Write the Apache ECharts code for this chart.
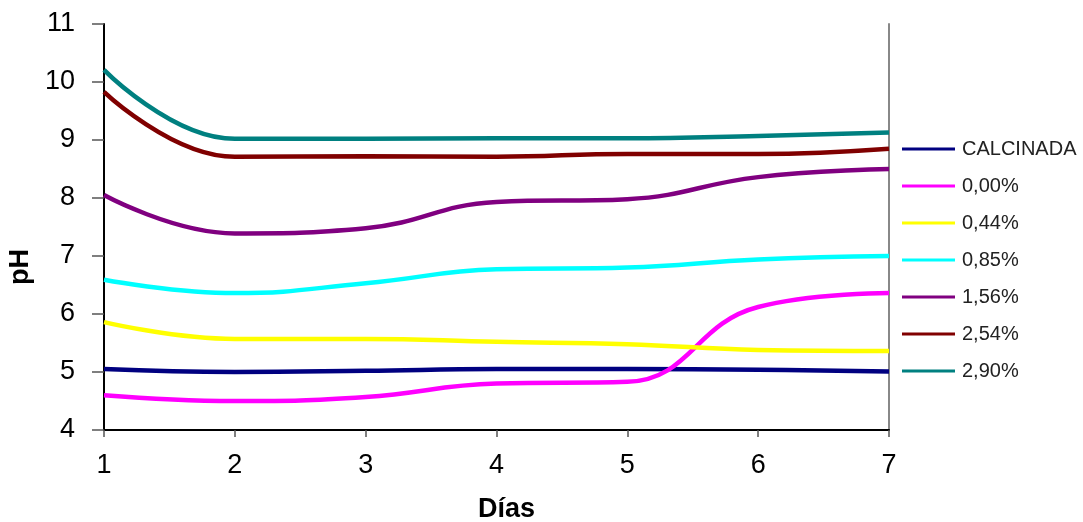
<!DOCTYPE html>
<html>
<head>
<meta charset="utf-8">
<script src="https://cdn.jsdelivr.net/npm/echarts@6/dist/echarts.min.js"></script>
<style>html,body{margin:0;padding:0;background:#fff}#c{width:1083px;height:522px}</style>
</head>
<body>
<div id="c"></div>
<script>
const days = [1, 2, 3, 4, 5, 6, 7];
const seriesNames = ['CALCINADA', '0,00%', '0,44%', '0,85%', '1,56%', '2,54%', '2,90%'];
const seriesColors = ['#000080', '#FF00FF', '#FFFF00', '#00FFFF', '#800080', '#800000', '#008080'];
const calcinada = [5.05, 5.00, 5.02, 5.05, 5.05, 5.04, 5.01];
const p000 = [4.60, 4.50, 4.57, 4.80, 4.83, 6.12, 6.36];
const p044 = [5.86, 5.57, 5.57, 5.52, 5.48, 5.38, 5.36];
const p085 = [6.59, 6.36, 6.53, 6.77, 6.80, 6.94, 7.00];
const p156 = [8.05, 7.39, 7.48, 7.93, 7.98, 8.36, 8.50];
const p254 = [9.83, 8.71, 8.72, 8.71, 8.76, 8.76, 8.85];
const p290 = [10.21, 9.02, 9.02, 9.03, 9.03, 9.07, 9.13];
const allValues = [calcinada, p000, p044, p085, p156, p254, p290];

const chart = echarts.init(document.getElementById('c'));
const font = 'Arial, "Liberation Sans", sans-serif';
chart.setOption({
  animation: false,
  backgroundColor: '#fff',
  grid: { left: 104, right: 194, top: 24, bottom: 92, containLabel: false, outerBoundsMode: 'none' },
  legend: {
    orient: 'vertical',
    left: 897, top: 134,
    itemWidth: 53, itemHeight: 3, itemGap: 17,
    icon: 'rect',
    textStyle: { fontFamily: font, fontSize: 20, lineHeight: 20, color: '#222', padding: [0, 0, 0, 2] },
    data: seriesNames
  },
  xAxis: {
    type: 'value', min: 1, max: 7, interval: 1,
    name: 'Días', nameLocation: 'middle', nameGap: 66,
    nameTextStyle: { fontFamily: font, fontSize: 27, fontWeight: 'bold', color: '#000', padding: [0, 0, 0, 20] },
    axisLine: { lineStyle: { color: '#000', width: 2 } },
    axisTick: { length: 7, lineStyle: { color: '#555', width: 1.5 } },
    axisLabel: { fontFamily: font, fontSize: 27, color: '#000', margin: 22 },
    splitLine: { show: false }
  },
  yAxis: [{
    type: 'value', min: 4, max: 11, interval: 1,
    name: 'pH', nameLocation: 'middle', nameGap: 64, nameRotate: 90,
    nameTextStyle: { fontFamily: font, fontSize: 27, fontWeight: 'bold', color: '#000', padding: [0, 80, 0, 0] },
    axisLine: { show: true, lineStyle: { color: '#000', width: 2 } },
    axisTick: { show: true, length: 12, lineStyle: { color: '#555', width: 1.5 } },
    axisLabel: { fontFamily: font, fontSize: 27, color: '#000', margin: 29 },
    splitLine: { show: false }
  }, {
    type: 'value', min: 4, max: 11, interval: 1, position: 'right',
    axisLine: { show: true, lineStyle: { color: '#888', width: 2 } },
    axisTick: { show: false }, axisLabel: { show: false }, splitLine: { show: false }
  }],
  series: allValues.map((vals, i) => ({
    name: seriesNames[i],
    type: 'line',
    smooth: 0.45,
    showSymbol: false,
    symbol: 'none',
    color: seriesColors[i],
    lineStyle: { width: 4.5, color: seriesColors[i] },
    data: days.map((d, j) => [d, vals[j]])
  }))
});
</script>
</body>
</html>
